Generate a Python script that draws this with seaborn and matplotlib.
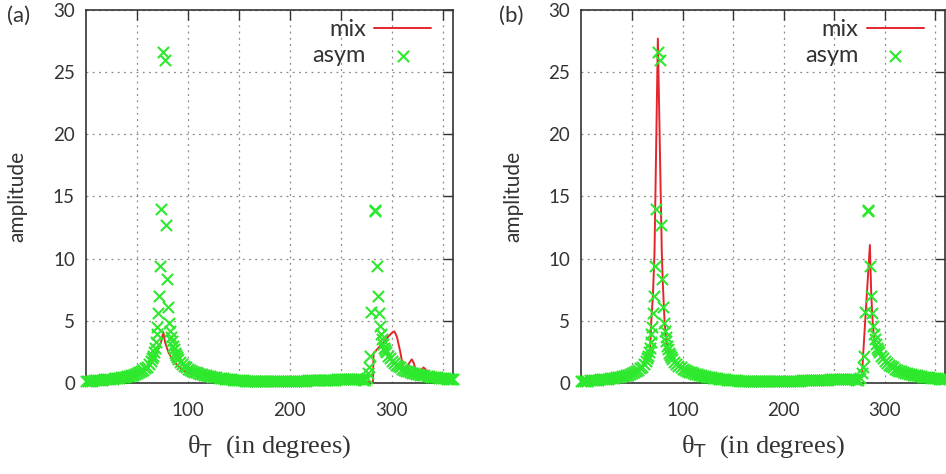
import matplotlib
matplotlib.use("Agg")
import matplotlib.pyplot as plt
import seaborn as sns
import pandas as pd

# asym: same points in both panels
asym_theta = [0, 2, 4, 6, 8, 10, 12, 14, 16, 18,
              20, 22, 24, 26, 28, 30, 32, 34, 36, 38,
              40, 42, 44, 46, 48, 50, 52, 54, 56, 58,
              60, 62, 64, 65, 66, 67, 68, 68.7, 69.3, 70,
              70.9, 72, 73, 74, 75.8, 77.3, 78.5, 79.3, 80.8, 81.8,
              82.5, 83.3, 84, 85, 86, 87, 88, 89, 90, 92,
              94, 96, 98, 100, 102, 104, 106, 108, 110, 112,
              114, 116, 118, 120, 122, 124, 126, 128, 130, 132,
              134, 136, 138, 140, 142, 144, 146, 148, 150, 152,
              154, 156, 158, 160, 162, 164, 166, 168, 170, 172,
              174, 176, 178, 180, 182, 184, 186, 188, 190, 192,
              194, 196, 198, 200, 202, 204, 206, 208, 210, 212,
              214, 216, 218, 220, 222, 224, 226, 228, 230, 232,
              234, 236, 238, 240, 242, 244, 246, 248, 250, 252,
              254, 256, 258, 260, 262, 264, 266, 268, 270, 272,
              274, 276, 277, 278, 279, 280, 283, 283.4, 285.8, 286,
              287.5, 288.5, 289.3, 290, 291, 292, 293, 294, 296, 298,
              300, 302, 304, 306, 308, 310, 312, 314, 316, 318,
              320, 322, 324, 326, 328, 330, 332, 334, 336, 338,
              340, 342, 344, 346, 348, 350, 352, 354, 356, 358,
              360]
asym_amp = [0.15, 0.17, 0.18, 0.20, 0.21, 0.23, 0.24, 0.26, 0.27, 0.29,
            0.30, 0.32, 0.34, 0.36, 0.38, 0.40, 0.43, 0.46, 0.49, 0.52,
            0.55, 0.59, 0.63, 0.68, 0.74, 0.80, 0.87, 0.95, 1.05, 1.17,
            1.32, 1.52, 1.80, 1.98, 2.2, 2.5, 2.85, 3.3, 3.9, 4.5,
            5.6, 7.0, 9.4, 14.0, 26.6, 26.0, 12.7, 8.4, 6.1, 4.8,
            4.2, 3.7, 3.35, 3.0, 2.7, 2.45, 2.25, 2.08, 1.93, 1.70,
            1.52, 1.38, 1.26, 1.15, 1.06, 0.98, 0.91, 0.85, 0.79, 0.74,
            0.69, 0.65, 0.61, 0.57, 0.54, 0.51, 0.48, 0.45, 0.42, 0.40,
            0.38, 0.36, 0.34, 0.32, 0.30, 0.28, 0.27, 0.25, 0.24, 0.22,
            0.21, 0.20, 0.19, 0.18, 0.17, 0.16, 0.15, 0.14, 0.14, 0.13,
            0.13, 0.12, 0.12, 0.12, 0.12, 0.12, 0.13, 0.13, 0.13, 0.14,
            0.14, 0.15, 0.15, 0.16, 0.16, 0.17, 0.17, 0.18, 0.19, 0.19,
            0.20, 0.20, 0.21, 0.22, 0.22, 0.23, 0.23, 0.24, 0.25, 0.25,
            0.26, 0.26, 0.27, 0.27, 0.28, 0.28, 0.29, 0.29, 0.30, 0.30,
            0.30, 0.31, 0.31, 0.31, 0.31, 0.31, 0.30, 0.30, 0.29, 0.28,
            0.27, 0.40, 0.8, 1.3, 2.2, 5.7, 13.8, 13.9, 9.4, 7.0,
            5.6, 4.6, 3.9, 3.5, 3.1, 2.85, 2.65, 2.48, 2.2, 1.98,
            1.80, 1.62, 1.48, 1.36, 1.25, 1.15, 1.07, 1.00, 0.94, 0.88,
            0.83, 0.79, 0.75, 0.71, 0.67, 0.64, 0.61, 0.58, 0.55, 0.52,
            0.50, 0.48, 0.46, 0.44, 0.42, 0.40, 0.38, 0.36, 0.34, 0.32,
            0.30]

# mix, panel (a)
mix_a_theta = [0, 10, 20, 30, 40, 50, 55, 60, 64, 67,
               70, 72, 74, 75.8, 77.5, 79, 81, 84, 87, 90,
               95, 100, 110, 120, 130, 140, 150, 160, 180, 200,
               220, 240, 260, 270, 276, 281.5, 282, 286, 291, 296,
               301, 302.5, 305, 308, 310.5, 313, 315, 317, 319.5, 321.5,
               323.5, 325.5, 328, 331, 333, 335, 340, 350, 360]
mix_a_amp = [0.10, 0.16, 0.22, 0.30, 0.42, 0.62, 0.82, 1.12, 1.55, 2.05,
             2.55, 2.9, 3.4, 4.1, 3.3, 2.9, 2.45, 2.0, 1.65, 1.4,
             1.05, 0.82, 0.55, 0.38, 0.28, 0.22, 0.17, 0.13, 0.10, 0.12,
             0.15, 0.18, 0.2, 0.18, 0.10, 0.0, 2.4, 2.75, 3.2, 3.7,
             4.1, 4.15, 3.7, 2.6, 1.5, 0.95, 1.1, 1.6, 1.9, 1.6,
             1.0, 0.75, 0.95, 1.25, 1.1, 0.7, 0.5, 0.35, 0.25]

# mix, panel (b)
mix_b_theta = [0, 10, 20, 30, 40, 50, 55, 60, 64, 66,
               68, 69.1, 70.7, 72.3, 75.6, 79.5, 80.5, 82.2, 84, 86,
               88, 90, 95, 100, 105, 110, 120, 130, 140, 150,
               160, 170, 180, 200, 220, 240, 260, 270, 276, 277.5,
               278.7, 285.3, 286.5, 287.5, 288.5, 289.5, 290.5, 292, 296, 300,
               310, 320, 330, 340, 350, 360]
mix_b_amp = [0.15, 0.22, 0.3, 0.4, 0.55, 0.8, 1.0, 1.32, 1.8, 2.2,
             2.85, 5.0, 7.0, 10.5, 27.7, 10.5, 8.0, 5.0, 3.35, 2.7,
             2.25, 1.93, 1.42, 1.15, 0.95, 0.79, 0.57, 0.42, 0.32, 0.24,
             0.18, 0.14, 0.12, 0.16, 0.22, 0.27, 0.31, 0.29, 0.3, 0.5,
             2.4, 11.1, 7.5, 5.6, 4.4, 3.6, 3.2, 2.85, 2.2, 1.8,
             1.15, 0.83, 0.64, 0.50, 0.40, 0.30]

panels = ["(a)", "(b)"]
mix_theta = [mix_a_theta, mix_b_theta]
mix_amp = [mix_a_amp, mix_b_amp]

yticks = [0, 5, 10, 15, 20, 25, 30]
xticks = [50, 100, 150, 200, 250, 300, 350]
xticklabels = ["", "100", "", "200", "", "300", ""]

red = "#e4262c"
green = "#2de82d"
ink = "#333333"

sns.set_style("white")
plt.rcParams["font.family"] = ["Lato", "DejaVu Sans"]
plt.rcParams["mathtext.fontset"] = "dejavusans"

fig = plt.figure(figsize=(9.46, 4.74), dpi=100)
ax_a = fig.add_axes([0.0909, 0.192, 0.388, 0.787])
ax_b = fig.add_axes([0.6146, 0.192, 0.3848, 0.787])

asym_df = pd.DataFrame({"theta": asym_theta, "amp": asym_amp})

for ax, tag, mt, ma, fx in zip([ax_a, ax_b], panels, mix_theta, mix_amp, [0.007, 0.527]):
    mix_df = pd.DataFrame({"theta": mt, "amp": ma})
    sns.lineplot(data=mix_df, x="theta", y="amp", ax=ax, color=red, lw=1.4,
                 sort=False, label="mix", zorder=3)
    sns.scatterplot(data=asym_df, x="theta", y="amp", ax=ax, marker="x",
                    color=green, s=65, linewidth=1.5, label="asym",
                    zorder=4, clip_on=False)

    ax.set_xlim(0, 360)
    ax.set_ylim(0, 30)
    ax.set_xticks(xticks)
    ax.set_xticklabels(xticklabels)
    ax.set_yticks(yticks)
    ax.grid(True, color="#8a8a8a", linestyle=(0, (1.5, 3.5)), lw=0.9)
    for s in ax.spines.values():
        s.set_color(ink)
        s.set_linewidth(1.2)
    ax.tick_params(axis="both", direction="in", length=7, width=1, color=ink,
                   labelcolor=ink, labelsize=13.5, top=True, right=True)
    ax.tick_params(axis="x", pad=14)
    ax.tick_params(axis="y", pad=8)

    ax.set_xlabel(r"θ$_{\mathsf{T}}$  (in degrees)", family="Liberation Serif",
                  fontsize=19, color=ink, labelpad=10)
    ax.set_ylabel("amplitude", fontsize=15, color=ink)
    ax.yaxis.set_label_coords(-0.16, 0.5)

    ax.legend(loc="upper right", bbox_to_anchor=(0.94, 0.975), frameon=False,
              markerfirst=False, fontsize=17, handlelength=2.4,
              handletextpad=0.35, labelspacing=0.2, borderpad=0,
              borderaxespad=0, labelcolor=ink)

    fig.text(fx, 0.967, tag, fontsize=16, color=ink, va="center", ha="left")

fig.savefig("out.png", dpi=100)
